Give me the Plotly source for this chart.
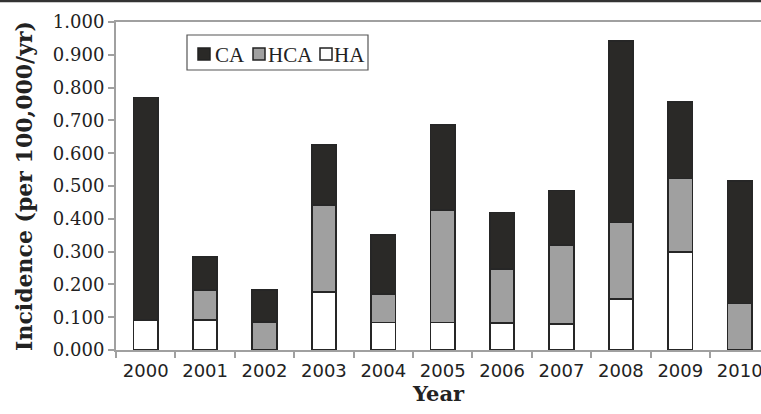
import plotly.graph_objects as go

years = ["2000", "2001", "2002", "2003", "2004", "2005", "2006", "2007", "2008", "2009", "2010"]
ha = [0.092, 0.092, 0.0, 0.178, 0.084, 0.084, 0.083, 0.080, 0.155, 0.300, 0.0]
hca = [0.0, 0.091, 0.086, 0.264, 0.087, 0.343, 0.164, 0.239, 0.234, 0.223, 0.142]
ca = [0.678, 0.100, 0.097, 0.183, 0.180, 0.259, 0.172, 0.167, 0.553, 0.233, 0.373]

series_names = ["HA", "HCA", "CA"]
series_values = [ha, hca, ca]
series_colors = ["#ffffff", "#a0a0a0", "#2a2927"]

edge = "#262626"
fig = go.Figure()
for name, vals, col in zip(series_names, series_values, series_colors):
    fig.add_trace(go.Bar(x=years, y=vals, name=name, width=0.41,
                         marker=dict(color=col, line=dict(color=edge, width=1.8))))

W, H = 761, 414
L, R, T, B = 116, 0, 22, 64
pw = W - L - R
ph = H - T - B


def px(x):
    return (x - L) / pw


def py(y):
    return 1 - (y - T) / ph


shapes = [
    # top border of the figure
    dict(type="line", xref="paper", yref="paper", x0=px(0), x1=1, y0=py(1), y1=py(1),
         line=dict(color="#333333", width=2.5)),
    # legend box
    dict(type="rect", xref="paper", yref="paper", x0=px(187), x1=px(368), y0=py(35), y1=py(70),
         line=dict(color="#555555", width=1.2), fillcolor="white"),
]
annotations = []
legend_order = ["CA", "HCA", "HA"]
swatch_x = [198, 253, 320]
text_x = [214, 267, 333]
for name, sx, tx in zip(legend_order, swatch_x, text_x):
    col = series_colors[series_names.index(name)]
    shapes.append(dict(type="rect", xref="paper", yref="paper", x0=px(sx), x1=px(sx + 12),
                       y0=py(48), y1=py(60), line=dict(color="#222222", width=1.5), fillcolor=col))
    annotations.append(dict(text=name, xref="paper", yref="paper", x=px(tx), y=py(54.5),
                            xanchor="left", yanchor="middle", showarrow=False, borderpad=0,
                            font=dict(family="Liberation Serif", size=21, color="#222222")))

title_font = dict(family="DejaVu Serif", size=21, color="#222222")

fig.update_layout(
    width=W, height=H,
    barmode="stack",
    margin=dict(l=L, r=R, t=T, b=B, autoexpand=False),
    plot_bgcolor="white", paper_bgcolor="white",
    showlegend=False,
    xaxis=dict(
        type="category", range=[-0.5, -0.5 + pw / 59.4], automargin=False,
        showline=True, linecolor="#a0a0a0", linewidth=2, mirror=True,
        ticks="outside", ticklen=6, tickcolor="#a0a0a0", tickwidth=1.5, tickson="boundaries",
        tickfont=dict(family="DejaVu Sans", size=18, color="#222222"), ticklabelstandoff=3,
        showgrid=False,
        title=dict(text="<b>Year</b>", font=title_font, standoff=4),
    ),
    yaxis=dict(
        range=[0, 1.0], tickvals=[i / 10 for i in range(11)], tickformat=".3f", automargin=False,
        showline=True, linecolor="#a0a0a0", linewidth=2,
        ticks="outside", ticklen=6, tickcolor="#a0a0a0", tickwidth=1.5,
        tickfont=dict(family="DejaVu Serif", size=18, color="#222222"),
        showgrid=False, zeroline=False,
        title=dict(text="<b>Incidence (per 100,000/yr)</b>", font=dict(family="DejaVu Serif", size=22, color="#222222"), standoff=14),
    ),
    shapes=shapes,
    annotations=annotations,
)

fig.write_html("out.html", config={"displayModeBar": False},
               post_script="document.body.style.margin='0';")
